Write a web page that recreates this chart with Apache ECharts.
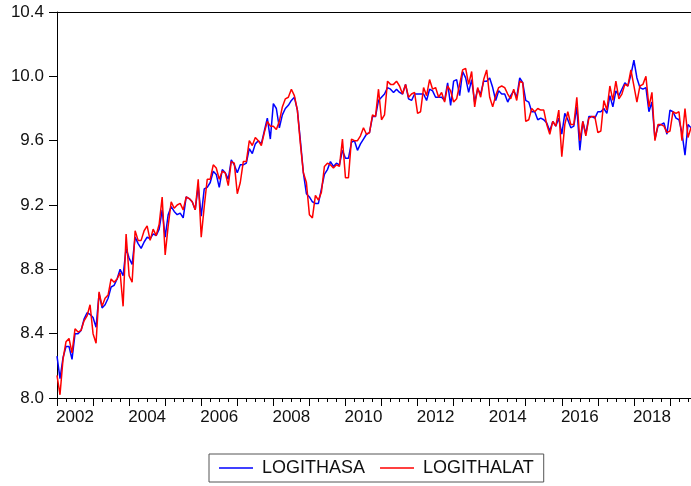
<!DOCTYPE html>
<html>
<head>
<meta charset="utf-8">
<script src="https://cdn.jsdelivr.net/npm/echarts@6/dist/echarts.min.js"></script>
<style>
  html, body { margin: 0; padding: 0; background: #fff; }
  #main { width: 691px; height: 486px; }
</style>
</head>
<body>
<div id="main"></div>
<script>
// monthly observations, 2002M01 .. 2019M08
const startYear = 2002;
const nMonths = 212;

const hasa2002 = [8.26, 8.12, 8.25, 8.32, 8.32, 8.24, 8.40, 8.40, 8.42, 8.49, 8.53, 8.52];
const hasa2003 = [8.50, 8.44, 8.65, 8.56, 8.58, 8.62, 8.69, 8.70, 8.74, 8.80, 8.76, 8.93];
const hasa2004 = [8.87, 8.83, 9.00, 8.96, 8.93, 8.97, 9.00, 8.99, 9.02, 9.01, 9.05, 9.17];
const hasa2005 = [9.00, 9.14, 9.19, 9.16, 9.14, 9.15, 9.12, 9.25, 9.24, 9.22, 9.17, 9.32];
const hasa2006 = [9.13, 9.30, 9.31, 9.34, 9.41, 9.39, 9.31, 9.42, 9.40, 9.36, 9.48, 9.45];
const hasa2007 = [9.40, 9.45, 9.45, 9.46, 9.55, 9.52, 9.58, 9.60, 9.58, 9.66, 9.74, 9.61];
const hasa2008 = [9.83, 9.80, 9.68, 9.76, 9.80, 9.82, 9.85, 9.87, 9.79, 9.60, 9.40, 9.27];
const hasa2009 = [9.25, 9.22, 9.21, 9.21, 9.30, 9.39, 9.42, 9.47, 9.44, 9.46, 9.45, 9.54];
const hasa2010 = [9.49, 9.49, 9.59, 9.60, 9.54, 9.58, 9.61, 9.64, 9.65, 9.75, 9.75, 9.85];
const hasa2011 = [9.87, 9.89, 9.93, 9.92, 9.90, 9.92, 9.90, 9.89, 9.95, 9.86, 9.85, 9.89];
const hasa2012 = [9.89, 9.89, 9.89, 9.85, 9.92, 9.91, 9.87, 9.87, 9.87, 9.85, 9.96, 9.82];
const hasa2013 = [9.97, 9.98, 9.88, 10.03, 9.99, 9.90, 9.98, 9.84, 9.92, 9.89, 9.97, 9.97];
const hasa2014 = [9.99, 9.93, 9.85, 9.91, 9.89, 9.89, 9.84, 9.88, 9.91, 9.87, 9.99, 9.96];
const hasa2015 = [9.85, 9.84, 9.78, 9.78, 9.73, 9.74, 9.73, 9.71, 9.66, 9.72, 9.69, 9.74];
const hasa2016 = [9.64, 9.77, 9.73, 9.68, 9.69, 9.81, 9.54, 9.72, 9.64, 9.75, 9.75, 9.74];
const hasa2017 = [9.78, 9.78, 9.80, 9.77, 9.88, 9.81, 9.91, 9.88, 9.92, 9.96, 9.94, 10.01];
const hasa2018 = [10.10, 9.99, 9.93, 9.92, 9.93, 9.78, 9.84, 9.61, 9.69, 9.70, 9.71, 9.64];
const hasa2019 = [9.79, 9.78, 9.74, 9.73, 9.65, 9.51, 9.70, 9.68];

const halat2002 = [8.14, 8.02, 8.24, 8.35, 8.37, 8.28, 8.43, 8.41, 8.42, 8.48, 8.51, 8.58];
const halat2003 = [8.40, 8.34, 8.66, 8.57, 8.62, 8.64, 8.74, 8.72, 8.74, 8.78, 8.57, 9.02];
const halat2004 = [8.76, 8.72, 9.04, 8.98, 8.98, 9.04, 9.07, 8.98, 9.05, 9.01, 9.08, 9.25];
const halat2005 = [8.89, 9.07, 9.22, 9.18, 9.20, 9.21, 9.17, 9.25, 9.24, 9.22, 9.17, 9.36];
const halat2006 = [9.00, 9.19, 9.36, 9.36, 9.45, 9.43, 9.36, 9.41, 9.40, 9.32, 9.47, 9.46];
const halat2007 = [9.27, 9.34, 9.47, 9.47, 9.60, 9.57, 9.62, 9.60, 9.57, 9.65, 9.72, 9.69];
const halat2008 = [9.69, 9.67, 9.72, 9.81, 9.86, 9.87, 9.92, 9.88, 9.79, 9.58, 9.40, 9.34];
const halat2009 = [9.14, 9.12, 9.26, 9.23, 9.28, 9.44, 9.46, 9.45, 9.43, 9.45, 9.44, 9.61];
const halat2010 = [9.37, 9.37, 9.61, 9.60, 9.60, 9.63, 9.68, 9.64, 9.65, 9.76, 9.75, 9.92];
const halat2011 = [9.73, 9.76, 9.97, 9.95, 9.95, 9.97, 9.94, 9.89, 9.95, 9.87, 9.89, 9.90];
const halat2012 = [9.77, 9.78, 9.93, 9.88, 9.98, 9.92, 9.93, 9.87, 9.90, 9.84, 9.94, 9.91];
const halat2013 = [9.84, 9.86, 9.95, 10.04, 10.05, 9.95, 10.03, 9.81, 9.93, 9.87, 9.98, 10.04];
const halat2014 = [9.87, 9.81, 9.88, 9.93, 9.94, 9.93, 9.89, 9.86, 9.92, 9.85, 9.97, 9.96];
const halat2015 = [9.72, 9.73, 9.80, 9.78, 9.80, 9.79, 9.79, 9.70, 9.64, 9.72, 9.69, 9.79];
const halat2016 = [9.50, 9.70, 9.78, 9.70, 9.70, 9.87, 9.60, 9.72, 9.63, 9.74, 9.75, 9.75];
const halat2017 = [9.65, 9.66, 9.85, 9.79, 9.94, 9.85, 9.97, 9.86, 9.89, 9.95, 9.94, 10.04];
const halat2018 = [9.94, 9.84, 9.94, 9.95, 10.00, 9.81, 9.90, 9.60, 9.70, 9.70, 9.69, 9.65];
const halat2019 = [9.66, 9.78, 9.77, 9.78, 9.60, 9.80, 9.62, 9.68];

const hasa = [].concat(hasa2002, hasa2003, hasa2004, hasa2005, hasa2006, hasa2007,
  hasa2008, hasa2009, hasa2010, hasa2011, hasa2012, hasa2013, hasa2014, hasa2015,
  hasa2016, hasa2017, hasa2018, hasa2019);
const halat = [].concat(halat2002, halat2003, halat2004, halat2005, halat2006, halat2007,
  halat2008, halat2009, halat2010, halat2011, halat2012, halat2013, halat2014, halat2015,
  halat2016, halat2017, halat2018, halat2019);

const months = [];
for (let i = 0; i < nMonths; i++) {
  const y = startYear + Math.floor(i / 12);
  const m = (i % 12) + 1;
  months.push(y + '-' + (m < 10 ? '0' + m : m));
}

const fontFamily = '"Liberation Sans", Arial, sans-serif';
const black = '#000';

const chart = echarts.init(document.getElementById('main'));

const option = {
  animation: false,
  backgroundColor: '#fff',
  grid: { left: 57, right: 0, top: 12, bottom: 88, outerBoundsMode: 'none' },
  legend: {
    left: 209,
    top: 454,
    padding: [5, 10, 5, 10],
    borderColor: '#555',
    borderWidth: 1,
    icon: 'rect',
    itemWidth: 34,
    itemHeight: 1.5,
    itemGap: 15,
    textStyle: { fontFamily: fontFamily, fontSize: 18, color: '#111', padding: [0, 0, 0, 4] },
    data: ['LOGITHASA', 'LOGITHALAT']
  },
  xAxis: [
    {
      type: 'category',
      data: months,
      boundaryGap: false,
      position: 'bottom',
      axisLine: { lineStyle: { color: black, width: 1 } },
      axisTick: {
        interval: function (i) { return i % 12 === 0; },
        length: 8,
        lineStyle: { color: black }
      },
      axisLabel: {
        interval: function (i) { return i % 24 === 6; },
        formatter: function (v) { return v.slice(0, 4); },
        margin: 11,
        fontFamily: fontFamily,
        fontSize: 17,
        color: '#111'
      },
      splitLine: { show: false }
    },
    {
      type: 'category',
      data: months,
      boundaryGap: false,
      position: 'bottom',
      axisLine: { show: false },
      axisTick: {
        interval: function (i) { return i % 3 === 0 && i % 12 !== 0; },
        length: 4,
        lineStyle: { color: black }
      },
      axisLabel: { show: false },
      splitLine: { show: false }
    },
    {
      type: 'category',
      data: months,
      boundaryGap: false,
      position: 'top',
      axisLine: { lineStyle: { color: black, width: 1 } },
      axisTick: { show: false },
      axisLabel: { show: false },
      splitLine: { show: false }
    }
  ],
  yAxis: {
    type: 'value',
    min: 8.0,
    max: 10.4,
    interval: 0.4,
    axisLine: { show: true, lineStyle: { color: black, width: 1 } },
    axisTick: { show: true, length: 8, lineStyle: { color: black } },
    axisLabel: {
      formatter: function (v) { return v.toFixed(1); },
      margin: 13,
      fontFamily: fontFamily,
      fontSize: 17,
      color: '#111'
    },
    splitLine: { show: false }
  },
  series: [
    {
      name: 'LOGITHASA',
      type: 'line',
      xAxisIndex: 0,
      data: hasa,
      symbol: 'none',
      lineStyle: { color: '#0000ff', width: 1.5 },
      itemStyle: { color: '#0000ff' }
    },
    {
      name: 'LOGITHALAT',
      type: 'line',
      xAxisIndex: 0,
      data: halat,
      symbol: 'none',
      lineStyle: { color: '#ff0000', width: 1.5 },
      itemStyle: { color: '#ff0000' }
    }
  ]
};

chart.setOption(option);
</script>
</body>
</html>
